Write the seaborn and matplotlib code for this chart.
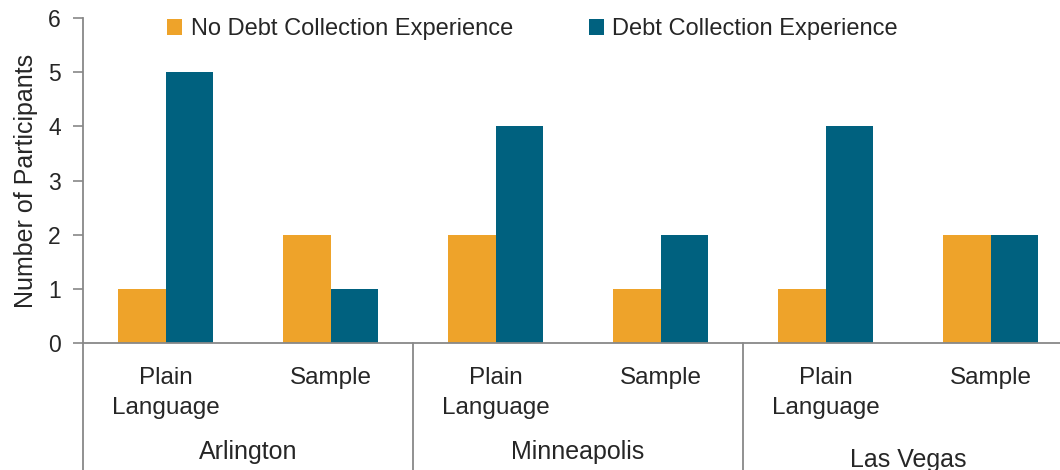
import matplotlib
matplotlib.use("Agg")
import matplotlib.pyplot as plt
import matplotlib.transforms as mtransforms
from matplotlib.lines import Line2D
import seaborn as sns
import pandas as pd

# ---- data ----
sub_labels = ["Plain\nLanguage", "Sample", "Plain\nLanguage", "Sample", "Plain\nLanguage", "Sample"]
cities = ["Arlington", "Minneapolis", "Las Vegas"]
series_names = ["No Debt Collection Experience", "Debt Collection Experience"]
no_debt = [1, 2, 2, 1, 1, 2]
debt = [5, 1, 4, 2, 4, 2]

colors = ["#EEA32A", "#00617F"]

sns.set_theme(style="white")
plt.rcParams["font.family"] = ["Liberation Sans", "DejaVu Sans"]

positions = list(range(len(sub_labels)))
rows = []
for i in positions:
    rows.append({"pos": i, "count": no_debt[i], "group": series_names[0]})
    rows.append({"pos": i, "count": debt[i], "group": series_names[1]})
df = pd.DataFrame(rows)

fig = plt.figure(figsize=(10.6, 4.7), dpi=100)
ax = fig.add_axes([83 / 1060, (470 - 343) / 470, 1 - 83 / 1060, (343 - 18) / 470])

sns.barplot(data=df, x="pos", y="count", hue="group", hue_order=series_names,
            order=positions, palette=colors, width=0.575, gap=0, saturation=1,
            linewidth=0, ax=ax, legend=True)

ax.set_xlim(-0.5, 5.42)
ax.set_ylim(0, 6)
ax.set_yticks(range(0, 7))
ax.tick_params(axis="y", labelsize=16.5, length=7, width=1.2, color="#888888",
               direction="out", left=True, pad=9)
ax.set_xticks(positions)
ax.set_xticklabels(sub_labels, fontsize=17.5, linespacing=1.45)
ax.tick_params(axis="x", length=0, pad=17.5)
ax.set_xlabel("")
ax.set_ylabel("Number of Participants", fontsize=18, labelpad=7)

for s in ["top", "right"]:
    ax.spines[s].set_visible(False)
for s in ["left", "bottom"]:
    ax.spines[s].set_color("#888888")
    ax.spines[s].set_linewidth(1.3)

# group separators and left extension
tr = mtransforms.blended_transform_factory(ax.transData, fig.transFigure)
y0 = (470 - 343) / 470
for xs in [-0.5, 1.5, 3.5]:
    fig.add_artist(Line2D([xs, xs], [0, y0], transform=tr, color="#888888", lw=1.3))

city_y = [1 - 452 / 470, 1 - 452 / 470, 1 - 460 / 470]
for k, city in enumerate(cities):
    fig.text(2 * k + 0.5, city_y[k], city, transform=tr, ha="center", va="center",
             fontsize=18)

leg = ax.legend(loc="center", bbox_to_anchor=(0.46, 1 - 11 / 325), ncol=2, frameon=False,
                handlelength=0.65, handleheight=0.65, handletextpad=0.35,
                columnspacing=3.2, prop={"size": 17})

fig.savefig("out.png", dpi=100)
